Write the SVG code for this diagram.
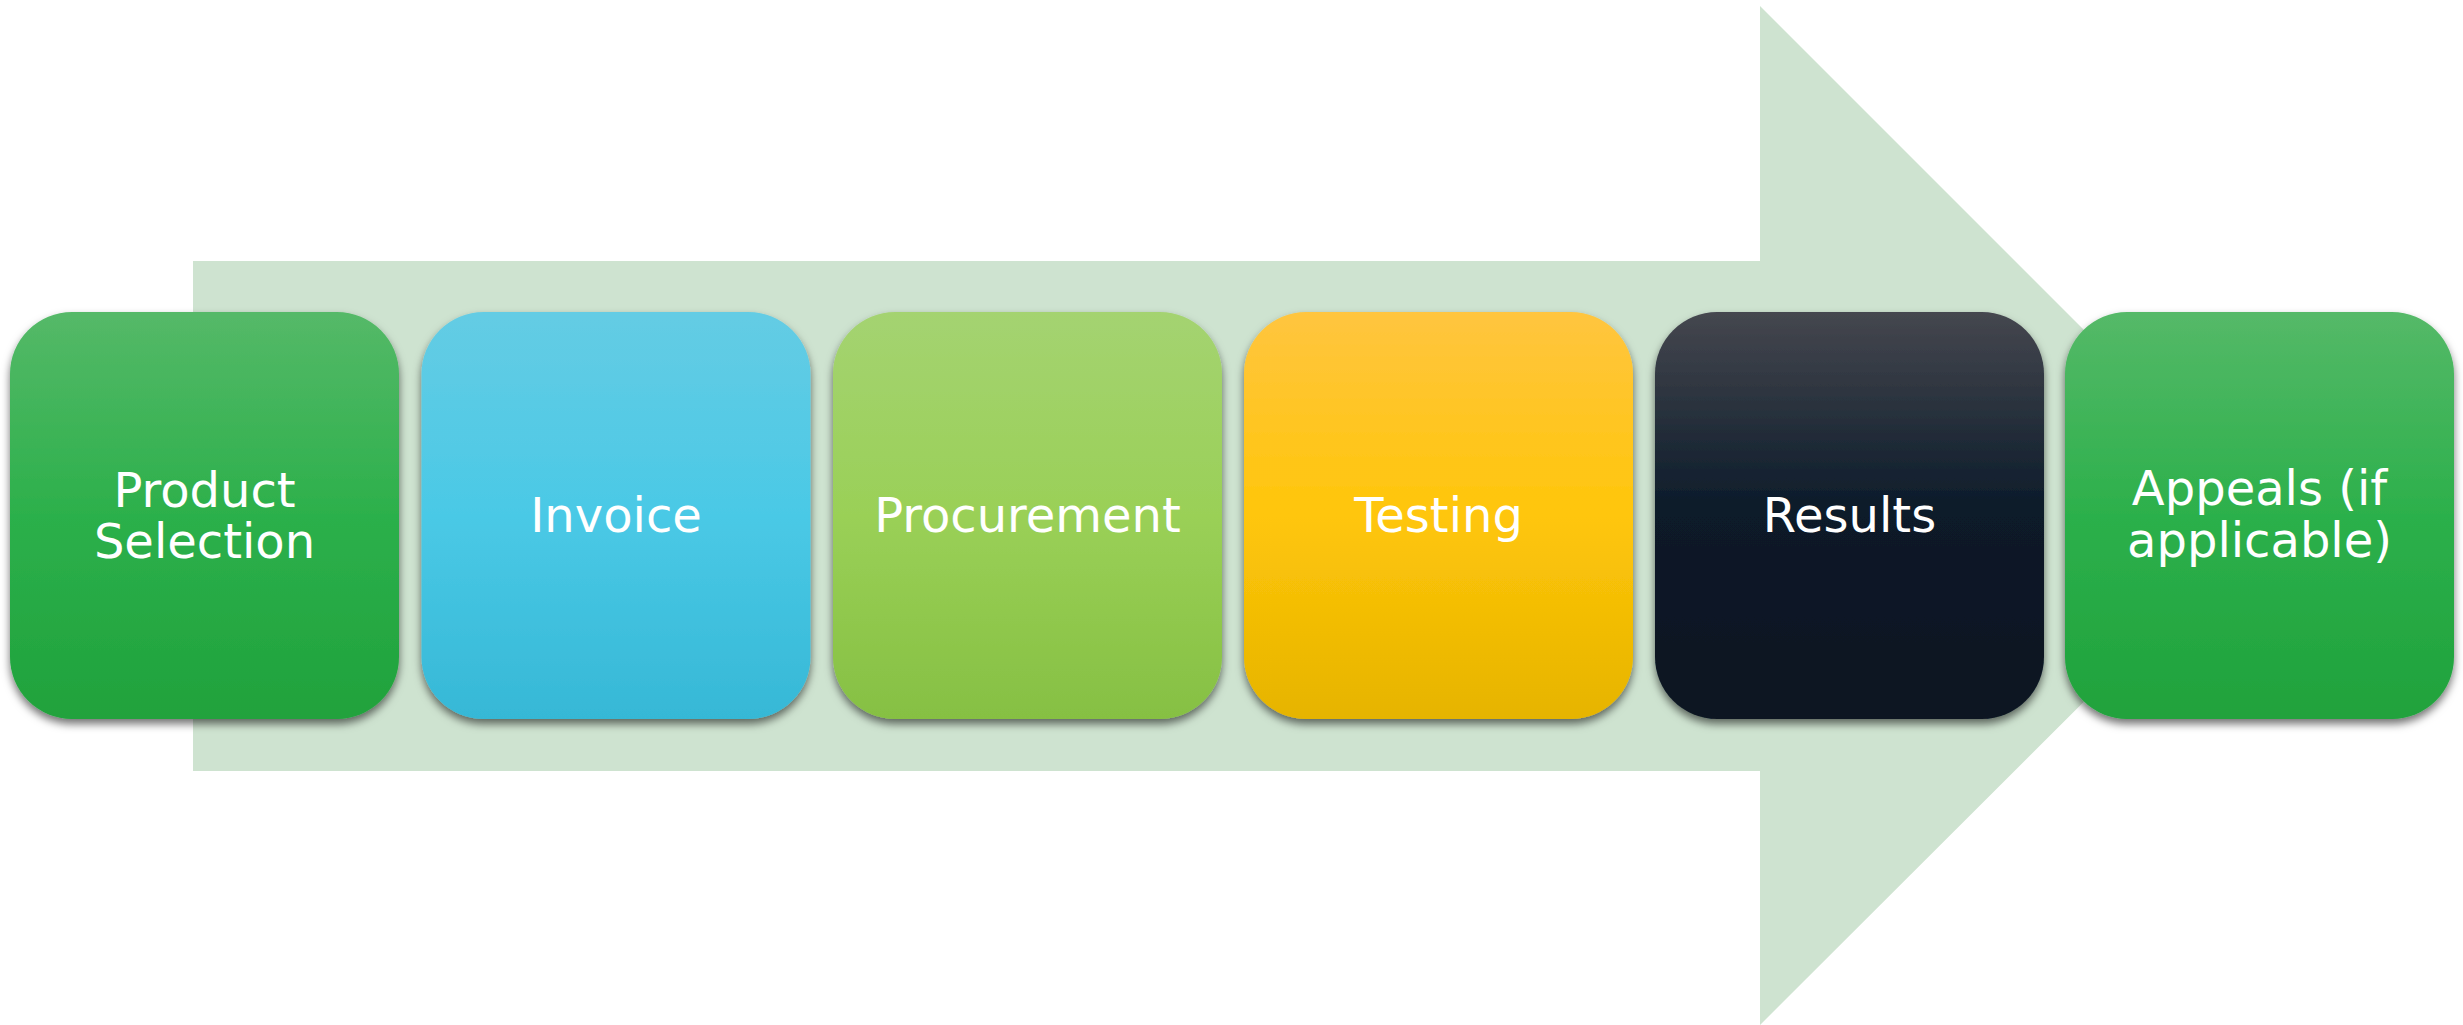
<svg xmlns="http://www.w3.org/2000/svg" width="2463" height="1025" viewBox="0 0 2463 1025">
<style>
.box{filter:url(#sh)}
.lbl{font-family:"DejaVu Sans","Verdana",sans-serif;font-size:48px;fill:#ffffff;text-anchor:middle}
</style>
<defs>
<filter id="sh" x="-10%" y="-10%" width="120%" height="125%">
<feDropShadow dx="0" dy="5" stdDeviation="4" flood-color="#000" flood-opacity="0.55"/>
</filter>
<linearGradient id="gGreen" x1="0" y1="0" x2="0" y2="1">
<stop offset="0" stop-color="#55b968"/><stop offset="0.5" stop-color="#2cb04b"/><stop offset="1" stop-color="#20a23c"/>
</linearGradient>
<linearGradient id="gBlue" x1="0" y1="0" x2="0" y2="1">
<stop offset="0" stop-color="#64cce4"/><stop offset="0.5" stop-color="#4ac9e6"/><stop offset="1" stop-color="#36b8d6"/>
</linearGradient>
<linearGradient id="gLime" x1="0" y1="0" x2="0" y2="1">
<stop offset="0" stop-color="#a4d371"/><stop offset="0.5" stop-color="#9ad057"/><stop offset="1" stop-color="#86c043"/>
</linearGradient>
<linearGradient id="gYellow" x1="0" y1="0" x2="0" y2="1">
<stop offset="0" stop-color="#ffc53f"/><stop offset="0.5" stop-color="#ffc60a"/><stop offset="1" stop-color="#e6b400"/>
</linearGradient>
<linearGradient id="gDark" x1="0" y1="0" x2="0" y2="1">
<stop offset="0" stop-color="#45474f"/><stop offset="0.5" stop-color="#0a1a29"/><stop offset="1" stop-color="#081421"/>
</linearGradient>
</defs>
<rect width="2463" height="1025" fill="#ffffff"/>
<g id="connectors">
<polygon points="193,261 1760,261 1760,6 2270,516 1760,1025 1760,771 193,771" fill="#cee3d0"/>
</g>
<g id="n1"><rect class="box" x="10" y="312" width="389" height="407" rx="62" fill="url(#gGreen)"/>
<text class="lbl" x="204.5" y="507">Product</text><text class="lbl" x="204.5" y="558">Selection</text></g>
<g id="n2"><rect class="box" x="421.5" y="312" width="389" height="407" rx="62" fill="url(#gBlue)"/>
<text class="lbl" x="616" y="532">Invoice</text></g>
<g id="n3"><rect class="box" x="833" y="312" width="389" height="407" rx="62" fill="url(#gLime)"/>
<text class="lbl" x="1027.5" y="532">Procurement</text></g>
<g id="n4"><rect class="box" x="1244" y="312" width="389" height="407" rx="62" fill="url(#gYellow)"/>
<text class="lbl" x="1438.5" y="532">Testing</text></g>
<g id="n5"><rect class="box" x="1655" y="312" width="389" height="407" rx="62" fill="url(#gDark)"/>
<text class="lbl" x="1849.5" y="532">Results</text></g>
<g id="n6"><rect class="box" x="2065" y="312" width="389" height="407" rx="62" fill="url(#gGreen)"/>
<text class="lbl" x="2259.5" y="505">Appeals (if</text><text class="lbl" x="2259.5" y="557">applicable)</text></g>
</svg>
